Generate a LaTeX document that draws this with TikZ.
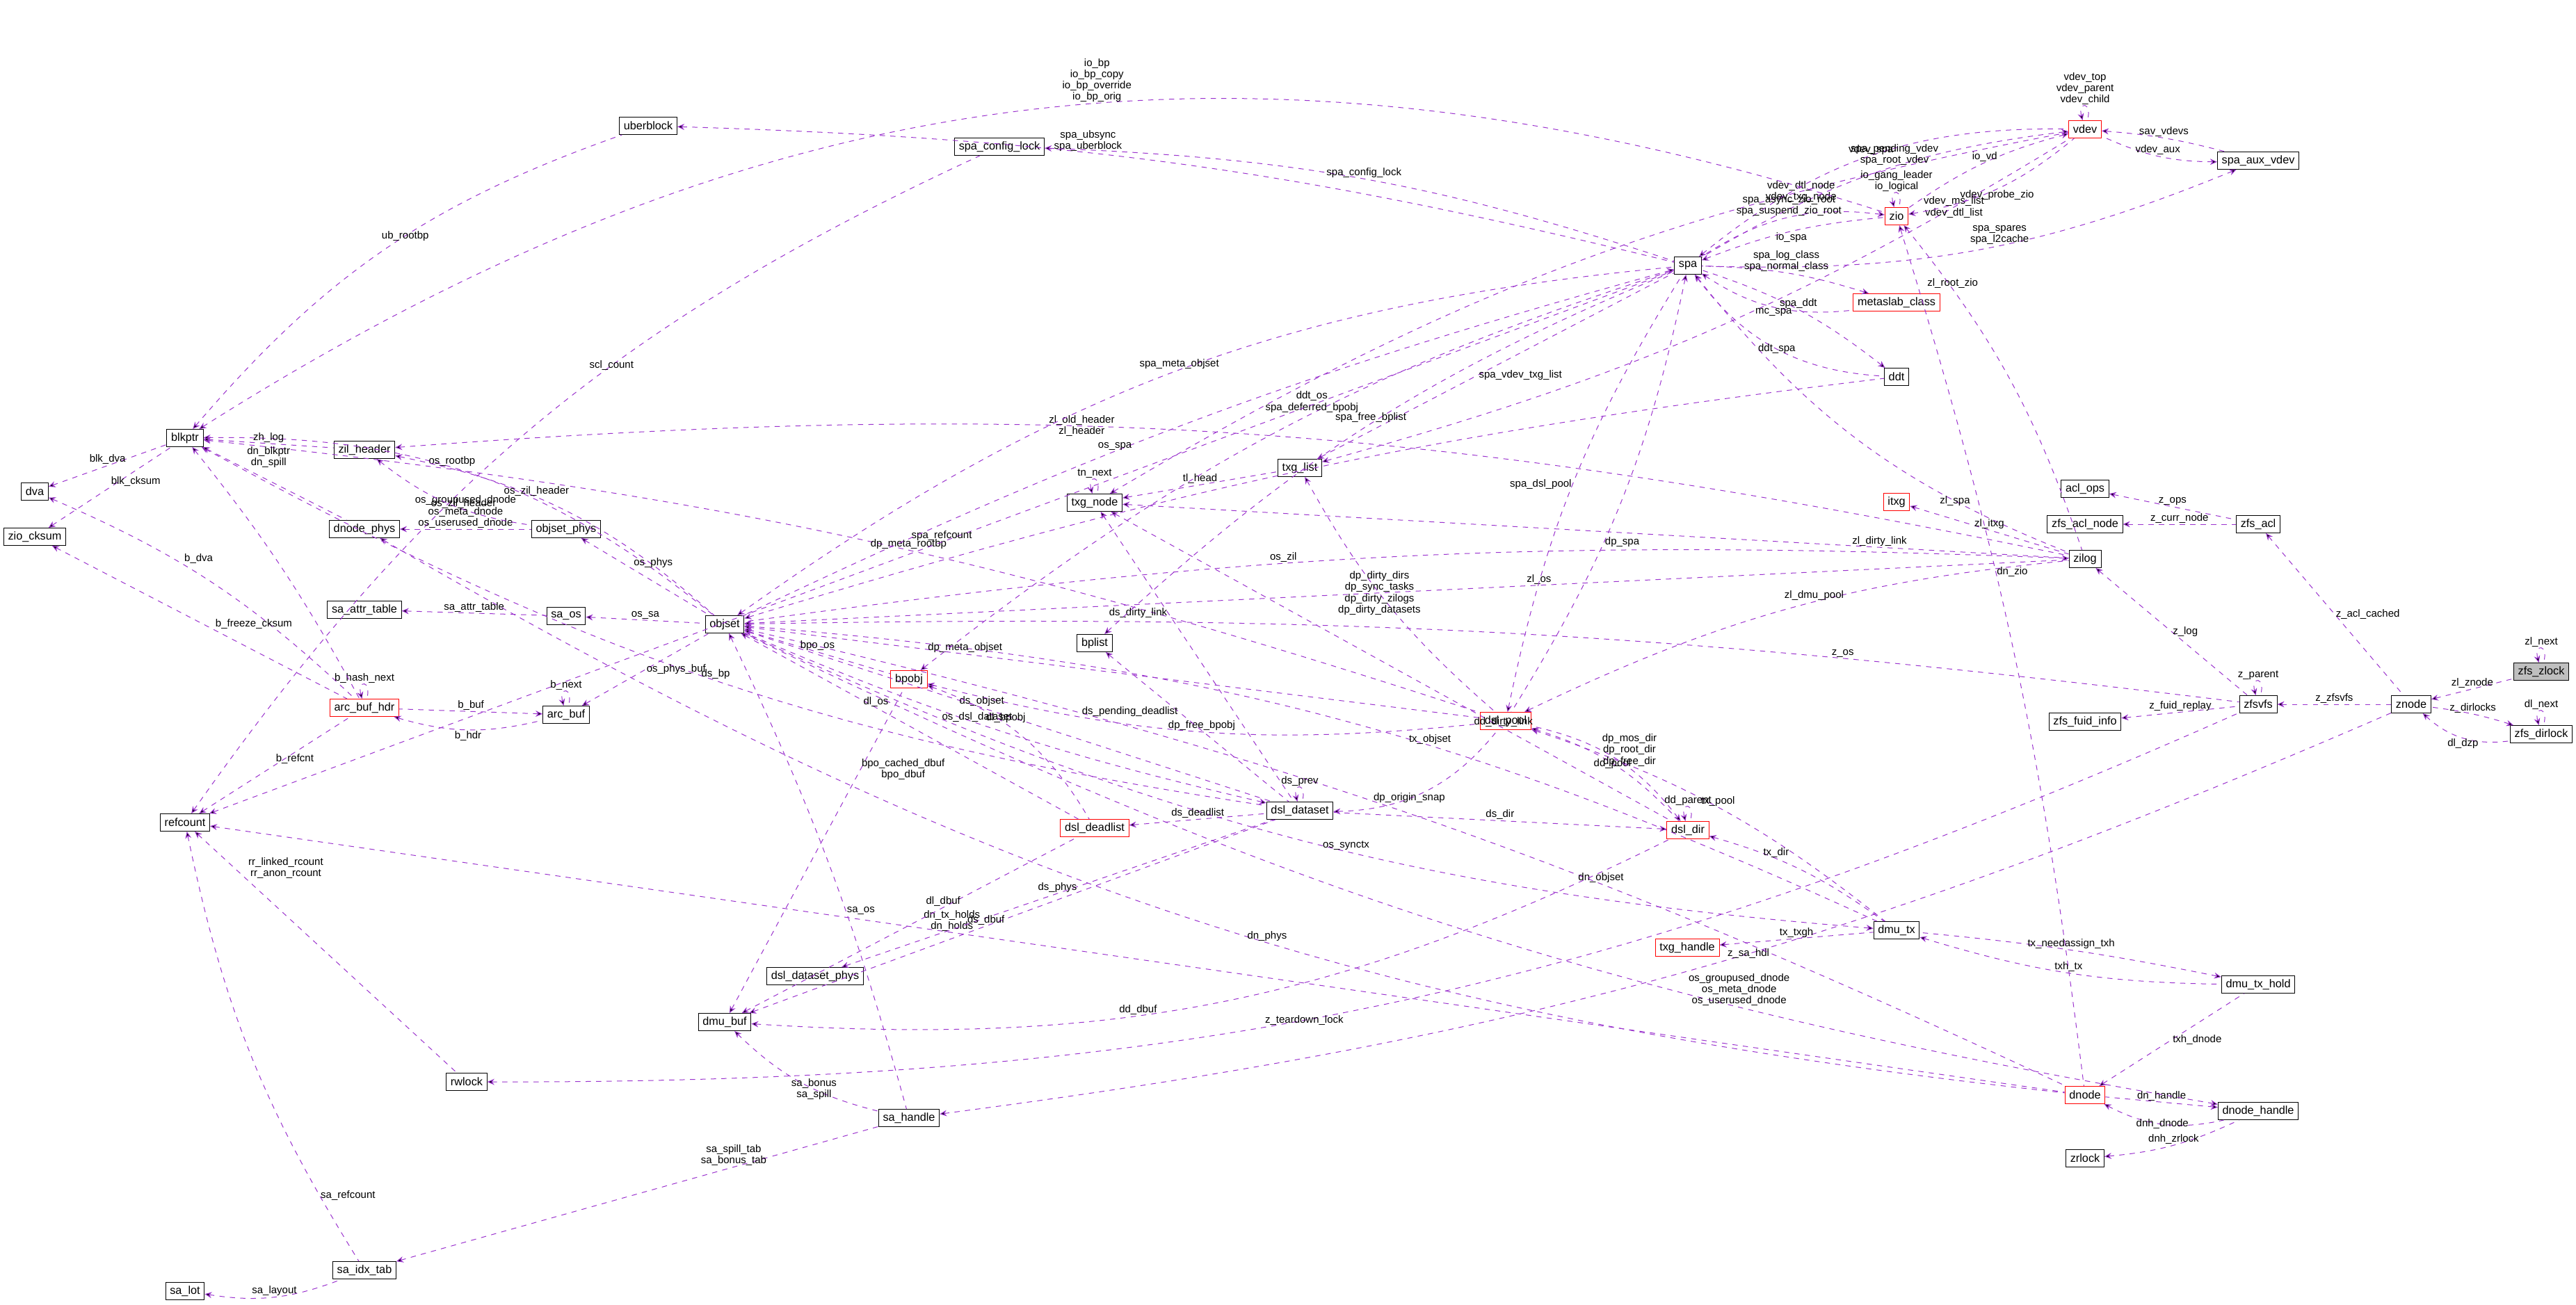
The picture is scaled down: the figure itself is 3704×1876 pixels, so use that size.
\documentclass[tikz,border=0pt]{standalone}
\usepackage{fontspec}
\setmainfont{Liberation Sans}
\usetikzlibrary{arrows.meta}
\definecolor{edgepurple}{RGB}{154,50,205}
\begin{document}
\begin{tikzpicture}[x=0.4pt,y=-0.4pt,font=\fontsize{6.5}{7.5}\selectfont,
	cls_node/.style={draw,fill=white,inner xsep=2.5pt,inner ysep=1pt,minimum height=10pt},
	red_node/.style={cls_node,draw=red},
	sel_node/.style={cls_node,fill=black!25},
	mem_edge/.style={draw=edgepurple,dashed,{Stealth[length=4pt,width=3.5pt]}-},
	every loop/.style={min distance=4mm,looseness=6},
	lbl/.style={font=\fontsize{6}{6.5}\selectfont,align=center,inner sep=0.5pt}]
	\useasboundingbox (0,0) rectangle (3704,1876);

	\node[sel_node] (zfs_zlock) at (3654,966) {zfs\_zlock};
	\node[cls_node] (znode) at (3467,1013) {znode};
	\node[cls_node] (zfs_dirlock) at (3654,1056) {zfs\_dirlock};
	\node[cls_node] (zfs_acl) at (3247,754) {zfs\_acl};
	\node[cls_node] (acl_ops) at (2998,703) {acl\_ops};
	\node[cls_node] (zfs_acl_node) at (2998,754) {zfs\_acl\_node};
	\node[cls_node] (zfsvfs) at (3247,1013) {zfsvfs};
	\node[cls_node] (zfs_fuid_info) at (2998,1038) {zfs\_fuid\_info};
	\node[cls_node] (dmu_tx_hold) at (3247,1416) {dmu\_tx\_hold};
	\node[cls_node] (dnode_handle) at (3247,1598) {dnode\_handle};
	\node[red_node] (dnode) at (2998,1575) {dnode};
	\node[cls_node] (zrlock) at (2998,1666) {zrlock};
	\node[cls_node] (dmu_tx) at (2727,1338) {dmu\_tx};
	\node[red_node] (txg_handle) at (2426,1363) {txg\_handle};
	\node[red_node] (dsl_dir) at (2427,1194) {dsl\_dir};
	\node[red_node] (dsl_pool) at (2165,1037) {dsl\_pool};
	\node[cls_node] (dsl_dataset) at (1869,1166) {dsl\_dataset};
	\node[red_node] (dsl_deadlist) at (1574,1191) {dsl\_deadlist};
	\node[cls_node] (dsl_dataset_phys) at (1172,1404) {dsl\_dataset\_phys};
	\node[red_node] (bpobj) at (1307,977) {bpobj};
	\node[cls_node] (bplist) at (1574,925) {bplist};
	\node[cls_node] (txg_node) at (1574,723) {txg\_node};
	\node[cls_node] (txg_list) at (1869,673) {txg\_list};
	\node[cls_node] (zilog) at (2998,804) {zilog};
	\node[red_node] (itxg) at (2727,722) {itxg};
	\node[cls_node] (spa) at (2427,382) {spa};
	\node[red_node] (metaslab_class) at (2727,435) {metaslab\_class};
	\node[cls_node] (ddt) at (2727,542) {ddt};
	\node[red_node] (zio) at (2727,311) {zio};
	\node[red_node] (vdev) at (2998,186) {vdev};
	\node[cls_node] (spa_aux_vdev) at (3247,231) {spa\_aux\_vdev};
	\node[cls_node] (spa_config_lock) at (1437,211) {spa\_config\_lock};
	\node[cls_node] (uberblock) at (932,181) {uberblock};
	\node[cls_node] (objset) at (1042,898) {objset};
	\node[cls_node] (objset_phys) at (814,761) {objset\_phys};
	\node[cls_node] (zil_header) at (524,647) {zil\_header};
	\node[cls_node] (dnode_phys) at (524,761) {dnode\_phys};
	\node[cls_node] (sa_os) at (814,886) {sa\_os};
	\node[cls_node] (sa_attr_table) at (524,877) {sa\_attr\_table};
	\node[cls_node] (arc_buf) at (814,1028) {arc\_buf};
	\node[red_node] (arc_buf_hdr) at (524,1018) {arc\_buf\_hdr};
	\node[cls_node] (blkptr) at (266,630) {blkptr};
	\node[cls_node] (dva) at (50,707) {dva};
	\node[cls_node] (zio_cksum) at (50,772) {zio\_cksum};
	\node[cls_node] (refcount) at (266,1183) {refcount};
	\node[cls_node] (rwlock) at (671,1556) {rwlock};
	\node[cls_node] (dmu_buf) at (1042,1470) {dmu\_buf};
	\node[cls_node] (sa_handle) at (1307,1608) {sa\_handle};
	\node[cls_node] (sa_idx_tab) at (524,1827) {sa\_idx\_tab};
	\node[cls_node] (sa_lot) at (266,1857) {sa\_lot};

	% zpl side
	\path[mem_edge] (zfs_zlock) edge[loop above] node[lbl,above] {zl\_next} (zfs_zlock);
	\path[mem_edge] (znode) edge node[lbl,above] {zl\_znode} (zfs_zlock);
	\path[mem_edge] (zfs_dirlock) edge[loop above] node[lbl,above] {dl\_next} (zfs_dirlock);
	\path[mem_edge] (znode) edge[bend right=25] node[lbl,below] {dl\_dzp} (zfs_dirlock);
	\path[mem_edge] (zfs_dirlock) edge[bend right=5] node[lbl,above] {z\_dirlocks} (znode);
	\path[mem_edge] (zfs_acl) edge node[lbl,right] {z\_acl\_cached} (znode);
	\path[mem_edge] (zfsvfs) edge node[lbl,above] {z\_zfsvfs} (znode);
	\path[mem_edge] (acl_ops) edge node[lbl,above] {z\_ops} (zfs_acl);
	\path[mem_edge] (zfs_acl_node) edge node[lbl,above] {z\_curr\_node} (zfs_acl);
	\path[mem_edge] (zfsvfs) edge[loop above] node[lbl,above] {z\_parent} (zfsvfs);
	\path[mem_edge] (zilog) edge node[lbl,right] {z\_log} (zfsvfs);
	\path[mem_edge] (zfs_fuid_info) edge node[lbl,above] {z\_fuid\_replay} (zfsvfs);
	\path[mem_edge] (objset) edge[bend left=4] node[lbl,above,pos=0.75] {z\_os} (zfsvfs);
	\path[mem_edge] (rwlock) edge[bend right=12] node[lbl,pos=0.45] {z\_teardown\_lock} (zfsvfs);
	\path[mem_edge] (sa_handle) edge[bend right=8] node[lbl,pos=0.55] {z\_sa\_hdl} (znode);
	% zil
	\path[mem_edge] (dsl_pool) edge[bend left=10] node[lbl,above,pos=0.55] {zl\_dmu\_pool} (zilog);
	\path[mem_edge] (txg_node) edge node[lbl,above,pos=0.8] {zl\_dirty\_link} (zilog);
	\path[mem_edge] (spa) edge[bend right=15] node[lbl,pos=0.75] {zl\_spa} (zilog);
	\path[mem_edge] (itxg) edge node[lbl,above] {zl\_itxg} (zilog);
	\path[mem_edge] (zil_header) edge[bend left=8] node[lbl,pos=0.4] {zl\_old\_header\\zl\_header} (zilog);
	\path[mem_edge] (objset) edge node[lbl,above,pos=0.6] {zl\_os} (zilog);
	\path[mem_edge] (zio) edge[bend left=10] node[lbl,above,pos=0.2] {zl\_root\_zio} (zilog);
	% dnode and tx
	\path[mem_edge] (dnode_handle) edge node[lbl,above] {dn\_handle} (dnode);
	\path[mem_edge] (dnode) edge[bend right=20] node[lbl] {dnh\_dnode} (dnode_handle);
	\path[mem_edge] (zrlock) edge[bend right=10] node[lbl,above] {dnh\_zrlock} (dnode_handle);
	\path[mem_edge] (dnode) edge node[lbl,right] {txh\_dnode} (dmu_tx_hold);
	\path[mem_edge] (dmu_tx) edge[bend right=8] node[lbl,above] {txh\_tx} (dmu_tx_hold);
	\path[mem_edge] (dmu_tx_hold) edge[bend right=3] node[lbl,above] {tx\_needassign\_txh} (dmu_tx);
	\path[mem_edge] (txg_handle) edge node[lbl,above] {tx\_txgh} (dmu_tx);
	\path[mem_edge] (dsl_dir) edge[bend left=10] node[lbl,above,pos=0.35] {tx\_dir} (dmu_tx);
	\path[mem_edge] (dsl_pool) edge[bend left=10] node[lbl,above,pos=0.5] {tx\_pool} (dmu_tx);
	\path[mem_edge] (objset) edge[bend left=10] node[lbl,above,pos=0.6] {tx\_objset} (dmu_tx);
	\path[mem_edge] (dmu_tx) edge[bend left=10] node[lbl,above,pos=0.45] {os\_synctx} (objset);
	\path[mem_edge] (dnode_handle) edge[bend left=8] node[lbl,above,pos=0.3] {os\_groupused\_dnode\\os\_meta\_dnode\\os\_userused\_dnode} (objset);
	% dsl
	\path[mem_edge] (dsl_dir) edge[loop above] node[lbl,above] {dd\_parent} (dsl_dir);
	\path[mem_edge] (dsl_pool) edge[bend left=15] node[lbl,pos=0.5] {dd\_pool} (dsl_dir);
	\path[mem_edge] (dsl_dataset) edge[bend right=25] node[lbl,pos=0.4] {dp\_origin\_snap} (dsl_pool);
	\path[mem_edge] (dsl_dir) edge[bend right=20] node[lbl,right,pos=0.6] {dp\_mos\_dir\\dp\_root\_dir\\dp\_free\_dir} (dsl_pool);
	\path[mem_edge] (dsl_dir) edge node[lbl,above] {ds\_dir} (dsl_dataset);
	\path[mem_edge] (txg_node) edge node[lbl,above,pos=0.7] {dd\_dirty\_link} (dsl_dir);
	\path[mem_edge] (objset) edge[bend left=6] node[lbl,above,pos=0.65] {dn\_objset} (dnode);
	\path[mem_edge] (dmu_buf) edge[bend right=15] node[lbl,above,pos=0.4] {dd\_dbuf} (dsl_dir);
	\path[mem_edge] (zio) edge[bend left=5] node[lbl,right,pos=0.4] {dn\_zio} (dnode);
	\path[mem_edge] (refcount) edge node[lbl,above,pos=0.4] {dn\_tx\_holds\\dn\_holds} (dnode);
	\path[mem_edge] (dnode_phys) edge[bend right=12] node[lbl,above,pos=0.55] {dn\_phys} (dnode);
	\path[mem_edge] (spa) edge[bend left=10] node[lbl,pos=0.6,right] {dp\_spa} (dsl_pool);
	\path[mem_edge] (dsl_pool) edge[bend left=10] node[lbl,pos=0.5,left] {spa\_dsl\_pool} (spa);
	\path[mem_edge] (objset) edge node[lbl,above,pos=0.3] {dp\_meta\_objset} (dsl_pool);
	\path[mem_edge] (bpobj) edge[bend right=10] node[lbl,above] {dp\_free\_bpobj} (dsl_pool);
	\path[mem_edge] (blkptr) edge[bend left=6] node[lbl,above,pos=0.55] {dp\_meta\_rootbp} (dsl_pool);
	\path[mem_edge] (txg_list) edge[bend right=10] node[lbl,pos=0.45] {dp\_dirty\_dirs\\dp\_sync\_tasks\\dp\_dirty\_zilogs\\dp\_dirty\_datasets} (dsl_pool);
	\path[mem_edge] (dsl_dataset) edge[loop above] node[lbl,above] {ds\_prev} (dsl_dataset);
	\path[mem_edge] (txg_node) edge node[lbl,left,pos=0.35] {ds\_dirty\_link} (dsl_dataset);
	\path[mem_edge] (bplist) edge node[lbl,left,pos=0.4] {ds\_pending\_deadlist} (dsl_dataset);
	\path[mem_edge] (objset) edge node[lbl,above,pos=0.45] {ds\_objset} (dsl_dataset);
	\path[mem_edge] (dsl_dataset) edge[bend left=5] node[lbl,above,pos=0.55] {os\_dsl\_dataset} (objset);
	\path[mem_edge] (dsl_deadlist) edge node[lbl,above] {ds\_deadlist} (dsl_dataset);
	\path[mem_edge] (dsl_dataset_phys) edge node[lbl,above,pos=0.5] {ds\_phys} (dsl_dataset);
	\path[mem_edge] (dmu_buf) edge node[lbl,above,pos=0.45] {ds\_dbuf} (dsl_dataset);
	\path[mem_edge] (blkptr) edge[bend right=10] node[lbl,above,pos=0.5] {ds\_bp} (dsl_dataset);
	\path[mem_edge] (objset) edge node[lbl,above,pos=0.4] {dl\_os} (dsl_deadlist);
	\path[mem_edge] (bpobj) edge[bend left=20] node[lbl,above,pos=0.4] {dl\_bpobj} (dsl_deadlist);
	\path[mem_edge] (dmu_buf) edge node[lbl,above,pos=0.6] {dl\_dbuf} (dsl_deadlist);
	\path[mem_edge] (objset) edge node[lbl,above] {bpo\_os} (bpobj);
	\path[mem_edge] (dmu_buf) edge node[lbl,right,pos=0.75] {bpo\_cached\_dbuf\\bpo\_dbuf} (bpobj);
	% txg and spa
	\path[mem_edge] (txg_node) edge[loop above] node[lbl,above] {tn\_next} (txg_node);
	\path[mem_edge] (txg_node) edge node[lbl,above] {tl\_head} (txg_list);
	\path[mem_edge] (txg_list) edge node[lbl,right,pos=0.45] {spa\_vdev\_txg\_list} (spa);
	\path[mem_edge] (bplist) edge[bend left=10] node[lbl,above,pos=0.5] {spa\_free\_bplist} (spa);
	\path[mem_edge] (bpobj) edge[bend left=10] node[lbl,above,pos=0.55] {ddt\_os\\spa\_deferred\_bpobj} (spa);
	\path[mem_edge] (objset) edge[bend left=15] node[lbl,above,pos=0.5] {spa\_meta\_objset} (spa);
	\path[mem_edge] (txg_list) edge[bend right=8] node[lbl,pos=0.85] {vdev\_ms\_list\\vdev\_dtl\_list} (vdev);
	\path[mem_edge] (txg_node) edge[bend left=10] node[lbl,pos=0.75] {vdev\_dtl\_node\\vdev\_txg\_node} (vdev);
	\path[mem_edge] (spa) edge[bend left=20] node[lbl,above] {vdev\_spa} (vdev);
	\path[mem_edge] (vdev) edge[loop above] node[lbl,above] {vdev\_top\\vdev\_parent\\vdev\_child} (vdev);
	\path[mem_edge] (vdev) edge[bend right=12] node[lbl,above,pos=0.45] {spa\_pending\_vdev\\spa\_root\_vdev} (spa);
	\path[mem_edge] (vdev) edge[bend right=10] node[lbl,above] {io\_vd} (zio);
	\path[mem_edge] (spa) edge[bend left=8] node[lbl,below] {io\_spa} (zio);
	\path[mem_edge] (zio) edge[bend right=20] node[lbl,above] {spa\_async\_zio\_root\\spa\_suspend\_zio\_root} (spa);
	\path[mem_edge] (zio) edge[loop above] node[lbl,above] {io\_gang\_leader\\io\_logical} (zio);
	\path[mem_edge] (zio) edge[bend right=15] node[lbl,below] {vdev\_probe\_zio} (vdev);
	\path[mem_edge] (spa_aux_vdev) edge[bend left=12] node[lbl,above] {vdev\_aux} (vdev);
	\path[mem_edge] (vdev) edge[bend left=5] node[lbl,above] {sav\_vdevs} (spa_aux_vdev);
	\path[mem_edge] (spa_aux_vdev) edge[bend left=12] node[lbl,above,pos=0.45] {spa\_spares\\spa\_l2cache} (spa);
	\path[mem_edge] (blkptr) edge[bend left=25] node[lbl,above,pos=0.55] {io\_bp\\io\_bp\_copy\\io\_bp\_override\\io\_bp\_orig} (zio);
	\path[mem_edge] (uberblock) edge[bend left=6] node[lbl,above,pos=0.4] {spa\_ubsync\\spa\_uberblock} (spa);
	\path[mem_edge] (spa_config_lock) edge[bend left=8] node[lbl,above] {spa\_config\_lock} (spa);
	\path[mem_edge] (refcount) edge node[lbl,above,pos=0.5] {spa\_refcount} (spa);
	\path[mem_edge] (refcount) edge[bend left=15] node[lbl,pos=0.6] {scl\_count} (spa_config_lock);
	\path[mem_edge] (blkptr) edge[bend left=15] node[lbl,pos=0.55] {ub\_rootbp} (uberblock);
	\path[mem_edge] (metaslab_class) edge[bend right=8] node[lbl,above] {spa\_log\_class\\spa\_normal\_class} (spa);
	\path[mem_edge] (spa) edge[bend right=20] node[lbl,below] {mc\_spa} (metaslab_class);
	\path[mem_edge] (ddt) edge[bend right=10] node[lbl,above] {spa\_ddt} (spa);
	\path[mem_edge] (spa) edge[bend right=25] node[lbl] {ddt\_spa} (ddt);
	\path[mem_edge] (objset) edge[bend left=5] (ddt);
	% objset side
	\path[mem_edge] (spa) edge[bend right=5] node[lbl,above,pos=0.6] {os\_spa} (objset);
	\path[mem_edge] (blkptr) edge[bend left=20] node[lbl,above,pos=0.45] {os\_rootbp} (objset);
	\path[mem_edge] (zil_header) edge[bend left=15] node[lbl,above,pos=0.4] {os\_zil\_header} (objset);
	\path[mem_edge] (zilog) edge[bend right=5] node[lbl,above,pos=0.6] {os\_zil} (objset);
	\path[mem_edge] (objset_phys) edge node[lbl,above right,pos=0.4] {os\_phys} (objset);
	\path[mem_edge] (arc_buf) edge node[lbl,right,pos=0.5] {os\_phys\_buf} (objset);
	\path[mem_edge] (sa_os) edge node[lbl,above] {os\_sa} (objset);
	\path[mem_edge] (sa_attr_table) edge node[lbl,above] {sa\_attr\_table} (sa_os);
	\path[mem_edge] (blkptr) edge node[lbl,above] {zh\_log} (zil_header);
	\path[mem_edge] (dnode_phys) edge node[lbl,above] {os\_groupused\_dnode\\os\_meta\_dnode\\os\_userused\_dnode} (objset_phys);
	\path[mem_edge] (zil_header) edge[bend right=15] node[lbl,above,pos=0.6] {os\_zil\_header} (objset_phys);
	\path[mem_edge] (blkptr) edge node[lbl,above right,pos=0.3] {dn\_blkptr\\dn\_spill} (dnode_phys);
	\path[mem_edge] (dva) edge node[lbl,above] {blk\_dva} (blkptr);
	\path[mem_edge] (zio_cksum) edge node[lbl,above right] {blk\_cksum} (blkptr);
	\path[mem_edge] (dva) edge[bend left=10] node[lbl,above right,pos=0.4] {b\_dva} (arc_buf_hdr);
	\path[mem_edge] (zio_cksum) edge node[lbl,above right,pos=0.55] {b\_freeze\_cksum} (arc_buf_hdr);
	\path[mem_edge] (arc_buf_hdr) edge[loop above] node[lbl,above] {b\_hash\_next} (arc_buf_hdr);
	\path[mem_edge] (arc_buf) edge node[lbl,above] {b\_buf} (arc_buf_hdr);
	\path[mem_edge] (arc_buf) edge[loop above] node[lbl,above] {b\_next} (arc_buf);
	\path[mem_edge] (arc_buf_hdr) edge[bend right=15] node[lbl,below] {b\_hdr} (arc_buf);
	\path[mem_edge] (refcount) edge node[lbl,above right] {b\_refcnt} (arc_buf_hdr);
	\path[mem_edge] (blkptr) edge[bend left=5] (arc_buf_hdr);
	\path[mem_edge] (refcount) edge node[lbl,above right,pos=0.2] {rr\_linked\_rcount\\rr\_anon\_rcount} (rwlock);
	\path[mem_edge] (objset) edge[bend left=5] node[lbl,right,pos=0.6] {sa\_os} (sa_handle);
	\path[mem_edge] (dmu_buf) edge[bend right=15] node[lbl,pos=0.6] {sa\_bonus\\sa\_spill} (sa_handle);
	\path[mem_edge] (sa_idx_tab) edge node[lbl,above,pos=0.7] {sa\_spill\_tab\\sa\_bonus\_tab} (sa_handle);
	\path[mem_edge] (refcount) edge[bend right=10] node[lbl,right,pos=0.85] {sa\_refcount} (sa_idx_tab);
	\path[mem_edge] (sa_lot) edge[bend right=15] node[lbl,above] {sa\_layout} (sa_idx_tab);
\end{tikzpicture}
\end{document}
